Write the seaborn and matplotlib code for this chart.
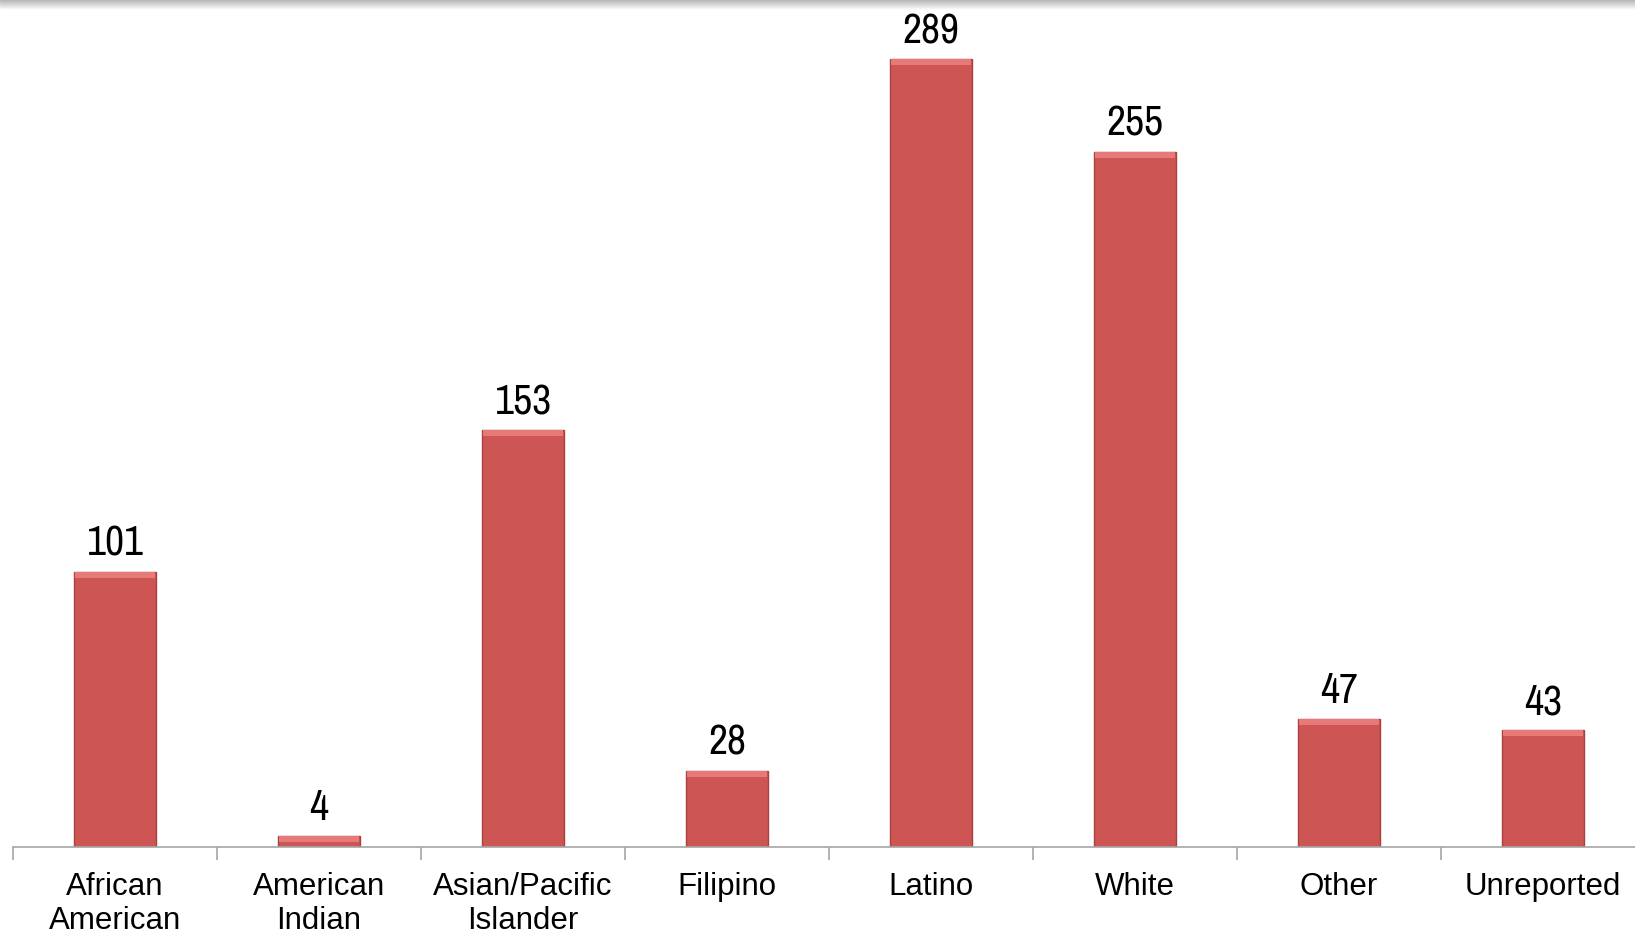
import numpy as np
import matplotlib
matplotlib.use("Agg")
import matplotlib.pyplot as plt
from matplotlib.patches import Rectangle
from matplotlib import font_manager
import seaborn as sns
import pandas as pd

groups = ["African\nAmerican", "American\nIndian", "Asian/Pacific\nIslander", "Filipino",
          "Latino", "White", "Other", "Unreported"]
counts = [101, 4, 153, 28, 289, 255, 47, 43]

df = pd.DataFrame({"group": groups, "count": counts})

sns.set_style("white")
plt.rcParams['font.family'] = ['Liberation Sans', 'DejaVu Sans']

# pick a regular-weight narrow face for the value labels if one is installed
def is_regular(f):
    return f.style == "normal" and f.weight in (400, "normal", "regular", "book")

narrow = [f for f in font_manager.fontManager.ttflist
          if is_regular(f) and ("Narrow" in f.name or "Condensed" in f.name
                                or f.stretch in ("condensed", "semi-condensed"))]
narrow.sort(key=lambda f: 0 if "Narrow" in f.name else 1)

if narrow:
    fp = font_manager.FontProperties(fname=narrow[0].fname, size=30)
else:
    fp = font_manager.FontProperties(family=['Liberation Sans', 'DejaVu Sans'], size=27)

fig = plt.figure(figsize=(16.35, 9.37), dpi=100)
ax = fig.add_axes([13 / 1635, 0.095, 1632 / 1635, 0.905])

sns.barplot(data=df, x="group", y="count", color="#CD5654", saturation=1,
            width=0.4, edgecolor="#A8413F", linewidth=1.0, ax=ax)

# bevel highlight on top of each bar
for p in ax.patches:
    x0, y0 = p.get_x(), p.get_y()
    w, h = p.get_width(), p.get_height()
    band = min(2.2, h * 0.5)
    ax.add_patch(Rectangle((x0 + 0.004, y0 + h - band), w - 0.008, band, facecolor="#E57A78",
                           edgecolor="none", zorder=p.get_zorder() + 0.1))

ax.bar_label(ax.containers[0], labels=[str(c) for c in counts], padding=7,
             fontproperties=fp, color="black")

ax.set_xlim(-0.5, len(groups) - 0.5)
ax.set_ylim(0, 311)
ax.set_xlabel("")
ax.set_ylabel("")
ax.set_yticks([])

for s in ["top", "right", "left"]:
    ax.spines[s].set_visible(False)
ax.spines["bottom"].set_color("#A6A6A6")
ax.spines["bottom"].set_linewidth(1.2)

ax.set_xticks(np.arange(-0.5, len(groups)), minor=True)
ax.tick_params(axis="x", which="major", length=0, pad=17, labelsize=22.5, labelcolor="black")
ax.tick_params(axis="x", which="minor", length=9, width=1.2, color="#A6A6A6", direction="out")
ax.xaxis.set_tick_params(which="minor", bottom=True)
for lab in ax.get_xticklabels():
    lab.set_linespacing(1.2)

# grey shadow along top edge
for i in range(10):
    fig.add_artist(plt.Line2D([0, 1], [1 - i / 937, 1 - i / 937], transform=fig.transFigure,
                              color="#8C8C8C", alpha=0.55 * (1 - i / 10), linewidth=1))

fig.savefig("out.png", dpi=100)
